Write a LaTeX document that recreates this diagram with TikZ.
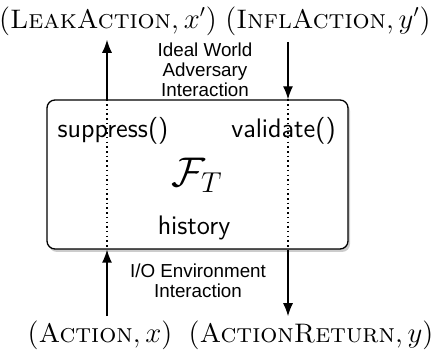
\documentclass[tikz,border=0pt]{standalone}
\usepackage{fontspec}
\newfontfamily\helv{Liberation Sans}
\usetikzlibrary{shadows,arrows.meta}

\begin{document}
\begin{tikzpicture}[x=0.5pt, y=-0.5pt, >={Latex[length=6.5pt,width=5pt]}]
        \tikzstyle{every node}=[inner sep=0pt]
        \tikzstyle{msg}=[font=\fontsize{13.4}{15}\selectfont]
        \tikzstyle{note}=[font=\helv\fontsize{9.4}{10}\selectfont, align=center]
        \tikzstyle{fun}=[font=\sffamily\fontsize{13.4}{15}\selectfont]
        \tikzstyle{flow}=[->, line width=0.65pt]
        \tikzstyle{trace}=[line width=0.75pt, dash pattern=on 0.75pt off 1.6pt]
        \useasboundingbox (0,0) rectangle (432,356);
        \node [draw, line width=0.65pt, rounded corners=4pt, fill=white, minimum width=150.5pt, minimum height=74.5pt, drop shadow={shadow xshift=1pt, shadow yshift=-1.5pt, opacity=0.4}] (ft) at (197.5,174.5) {};
        \coordinate (aL) at (107,0);
        \coordinate (aR) at (288,0);
        \node [msg] (leak) at (108,21) {$(\textsc{LeakAction}, x')$};
        \node [msg] (infl) at (328,21) {$(\textsc{InflAction}, y')$};
        \node [msg] (act) at (100,335) {$(\textsc{Action}, x)$};
        \node [msg] (ret) at (311,335) {$(\textsc{ActionReturn}, y)$};
        \node [note] (ideal) at (205,70) {Ideal World\\Adversary\\Interaction};
        \node [note] (io) at (198,281) {I/O Environment\\Interaction};
        \node [fun] (sup) at (113,131) {suppress()};
        \node [fun] (val) at (283.5,131) {validate()};
        \node [font=\fontsize{20}{22}\selectfont] (name) at (197,175) {$\mathcal{F}_T$};
        \node [fun] (hist) at (194,228) {history};
        \draw [trace] (ft.north -| aL) -- (ft.south -| aL);
        \draw [trace] (ft.north -| aR) -- (ft.south -| aR);
        \draw [flow] (ft.north -| aL) -- ([yshift=-2pt]leak.south -| aL);
        \draw [flow] ([yshift=-3pt]infl.south -| aR) -- (ft.north -| aR);
        \draw [flow] ([yshift=2pt]act.north -| aL) -- (ft.south -| aL);
        \draw [flow] (ft.south -| aR) -- ([yshift=2pt]ret.north -| aR);
    \end{tikzpicture}
\end{document}
